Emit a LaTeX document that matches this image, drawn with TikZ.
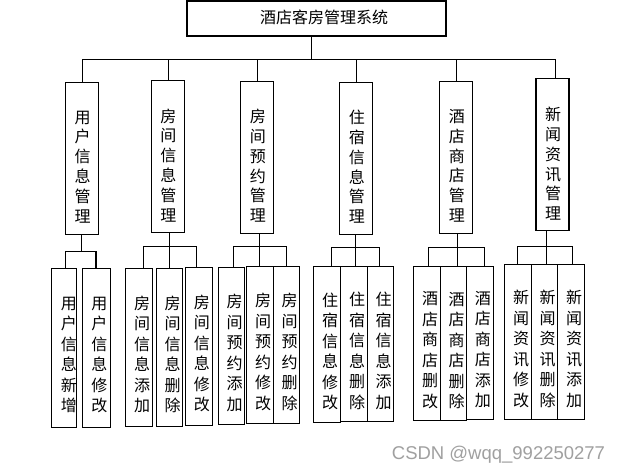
\documentclass[tikz,border=0pt]{standalone}
\usepackage{fontspec}
\newfontfamily\cjk{Noto Sans CJK SC}
\newfontfamily\wmfont{Liberation Sans}
\definecolor{wmgray}{RGB}{160,160,160}

\tikzset{
  box/.style={draw, line width=1.3pt, inner sep=0pt},
  topbox/.style={box, minimum width=259, minimum height=35},
  midbox/.style={box, minimum width=33, minimum height=152},
  leaf/.style 2 args={box, minimum width=#1, minimum height=#2},
  titletxt/.style={inner sep=0pt, font=\cjk\fontsize{16}{20}\selectfont},
  midtxt/.style={inner sep=0pt, align=center, font=\cjk\fontsize{16}{19.8}\selectfont},
  leaftxt/.style={inner sep=0pt, align=center, font=\cjk\fontsize{16}{20.5}\selectfont},
  link/.style={line width=1.3pt}
}

\begin{document}
\begin{tikzpicture}[x=1pt, y=-1pt, line cap=rect]
                \fill[white] (0,0) rectangle (618,471);
                \useasboundingbox (0,0) rectangle (618,471);

                % System
                \node[topbox] (sys) at (316.5,18.4) {};
                \node[titletxt] (systxt) at ([shift={(7.5,-1)}]sys.center) {酒店客房管理系统};

                \coordinate (bus) at (311.7,59.3);
                \coordinate (b1) at (82.3,59.3);
                \coordinate (b2) at (168.7,59.3);
                \coordinate (b3) at (257.7,59.3);
                \coordinate (b4) at (356.3,59.3);
                \coordinate (b5) at (456.3,59.3);
                \coordinate (b6) at (555.7,59.3);
                \draw[link] (bus |- sys.south) -- (bus);
                \draw[link] (b1) -- (b6);

                % Modules
                \node[midbox] (m1) at (82,158.3) {};
                \node[midbox] (m2) at (167.8,156.8) {};
                \node[midbox] (m3) at (257.3,157.3) {};
                \node[midbox] (m4) at (356.3,158.3) {};
                \node[midbox] (m5) at (456.3,157.3) {};
                \node[midbox] (m6) at (552.5,154.8) {};
                \node[midtxt] (m1txt) at ([shift={(0.5,8.5)}]m1.center) {用\\户\\信\\息\\管\\理};
                \node[midtxt] (m2txt) at ([shift={(0.5,8.5)}]m2.center) {房\\间\\信\\息\\管\\理};
                \node[midtxt] (m3txt) at ([shift={(0.5,8.5)}]m3.center) {房\\间\\预\\约\\管\\理};
                \node[midtxt] (m4txt) at ([shift={(0.5,8.5)}]m4.center) {住\\宿\\信\\息\\管\\理};
                \node[midtxt] (m5txt) at ([shift={(0.5,8.5)}]m5.center) {酒\\店\\商\\店\\管\\理};
                \node[midtxt] (m6txt) at ([shift={(0.5,9)}]m6.center) {新\\闻\\资\\讯\\管\\理};
                \draw[link] (b1) -- (b1 |- m1.north);
                \draw[link] (b2) -- (b2 |- m2.north);
                \draw[link] (b3) -- (b3 |- m3.north);
                \draw[link] (b4) -- (b4 |- m4.north);
                \draw[link] (b5) -- (b5 |- m5.north);
                \draw[link] (b6) -- (b6 |- m6.north);

                % Group 1
                \node[leaf={25}{159}] (l1a) at (63.8,347.8) {};
                \node[leaf={28}{159}] (l1b) at (96.3,347.8) {};
                \node[leaftxt] (l1atxt) at ([shift={(5,7)}]l1a.center) {用\\户\\信\\息\\新\\增};
                \node[leaftxt] (l1btxt) at ([shift={(3,7)}]l1b.center) {用\\户\\信\\息\\修\\改};
                \coordinate (d1) at (81.3,251.3);
                \coordinate (s1a) at (65.3,251.3);
                \coordinate (s1b) at (96,251.3);
                \draw[link] (d1 |- m1.south) -- (d1);
                \draw[link] (s1a) -- (s1b);
                \draw[link] (s1a) -- (s1a |- l1a.north);
                \draw[link] (s1b) -- (s1b |- l1b.north);

                % Group 2
                \node[leaf={27.4}{158}] (l2a) at (139,347.3) {};
                \node[leaf={26.4}{158}] (l2b) at (169.5,347.3) {};
                \node[leaf={27}{158}] (l2c) at (198.8,346.3) {};
                \node[leaftxt] (l2atxt) at ([shift={(3,7)}]l2a.center) {房\\间\\信\\息\\添\\加};
                \node[leaftxt] (l2btxt) at ([shift={(3,7)}]l2b.center) {房\\间\\信\\息\\删\\除};
                \node[leaftxt] (l2ctxt) at ([shift={(3,7)}]l2c.center) {房\\间\\信\\息\\修\\改};
                \coordinate (d2) at (169.3,246.3);
                \coordinate (s2a) at (143.7,246.3);
                \coordinate (s2c) at (196.3,246.3);
                \draw[link] (d2 |- m2.south) -- (d2 |- l2b.north);
                \draw[link] (s2a) -- (s2c);
                \draw[link] (s2a) -- (s2a |- l2a.north);
                \draw[link] (s2c) -- (s2c |- l2c.north);

                % Group 3
                \node[leaf={26.4}{157}] (l3a) at (231.5,345.8) {};
                \node[leaf={27.4}{157}] (l3b) at (260,344.8) {};
                \node[leaf={25.6}{157}] (l3c) at (286.5,344.8) {};
                \node[leaftxt] (l3atxt) at ([shift={(3,7)}]l3a.center) {房\\间\\预\\约\\添\\加};
                \node[leaftxt] (l3btxt) at ([shift={(3,7)}]l3b.center) {房\\间\\预\\约\\修\\改};
                \node[leaftxt] (l3ctxt) at ([shift={(3,7)}]l3c.center) {房\\间\\预\\约\\删\\除};
                \coordinate (d3) at (259.7,246.3);
                \coordinate (s3a) at (233.3,246.3);
                \coordinate (s3c) at (286.3,246.3);
                \draw[link] (d3 |- m3.south) -- (d3 |- l3b.north);
                \draw[link] (s3a) -- (s3c);
                \draw[link] (s3a) -- (s3a |- l3a.north);
                \draw[link] (s3c) -- (s3c |- l3c.north);

                % Group 4
                \node[leaf={27.4}{155.6}] (l4a) at (327,344.5) {};
                \node[leaf={27}{154.6}] (l4b) at (354.2,344) {};
                \node[leaf={25.6}{154.6}] (l4c) at (380.5,344) {};
                \node[leaftxt] (l4atxt) at ([shift={(3,7)}]l4a.center) {住\\宿\\信\\息\\修\\改};
                \node[leaftxt] (l4btxt) at ([shift={(3,7)}]l4b.center) {住\\宿\\信\\息\\删\\除};
                \node[leaftxt] (l4ctxt) at ([shift={(3,7)}]l4c.center) {住\\宿\\信\\息\\添\\加};
                \coordinate (d4) at (355.3,247.3);
                \coordinate (s4a) at (331.7,247.3);
                \coordinate (s4c) at (379.3,247.3);
                \draw[link] (d4 |- m4.south) -- (d4 |- l4b.north);
                \draw[link] (s4a) -- (s4c);
                \draw[link] (s4a) -- (s4a |- l4a.north);
                \draw[link] (s4c) -- (s4c |- l4c.north);

                % Group 5
                \node[leaf={27}{154}] (l5a) at (427.2,343.3) {};
                \node[leaf={25.6}{154}] (l5b) at (453.5,343.3) {};
                \node[leaf={27}{153}] (l5c) at (479.8,342.8) {};
                \node[leaftxt] (l5atxt) at ([shift={(3,7)}]l5a.center) {酒\\店\\商\\店\\删\\改};
                \node[leaftxt] (l5btxt) at ([shift={(3,7)}]l5b.center) {酒\\店\\商\\店\\删\\除};
                \node[leaftxt] (l5ctxt) at ([shift={(3,7)}]l5c.center) {酒\\店\\商\\店\\添\\加};
                \coordinate (d5) at (457.3,247.3);
                \coordinate (s5a) at (428.7,247.3);
                \coordinate (s5c) at (484.3,247.3);
                \draw[link] (d5 |- m5.south) -- (d5 |- l5b.north);
                \draw[link] (s5a) -- (s5c);
                \draw[link] (s5a) -- (s5a |- l5a.north);
                \draw[link] (s5c) -- (s5c |- l5c.north);

                % Group 6
                \node[leaf={27.4}{155}] (l6a) at (518,341.8) {};
                \node[leaf={26}{155}] (l6b) at (544.7,341.8) {};
                \node[leaf={26.6}{155}] (l6c) at (571,341.8) {};
                \node[leaftxt] (l6atxt) at ([shift={(3,7)}]l6a.center) {新\\闻\\资\\讯\\修\\改};
                \node[leaftxt] (l6btxt) at ([shift={(3,7)}]l6b.center) {新\\闻\\资\\讯\\删\\除};
                \node[leaftxt] (l6ctxt) at ([shift={(3,7)}]l6c.center) {新\\闻\\资\\讯\\添\\加};
                \coordinate (d6) at (546.7,246.3);
                \coordinate (s6a) at (517.3,246.3);
                \coordinate (s6c) at (572.7,246.3);
                \draw[link] (d6 |- m6.south) -- (d6 |- l6b.north);
                \draw[link] (s6a) -- (s6c);
                \draw[link] (s6a) -- (s6a |- l6a.north);
                \draw[link] (s6c) -- (s6c |- l6c.north);

                % Watermark
                \node[anchor=base west, inner sep=0pt, text=wmgray, font=\wmfont\fontsize{18.5}{20}\selectfont] (mark) at (391.7,459.3) {CSDN @wqq\_992250277};
            \end{tikzpicture}
\end{document}
